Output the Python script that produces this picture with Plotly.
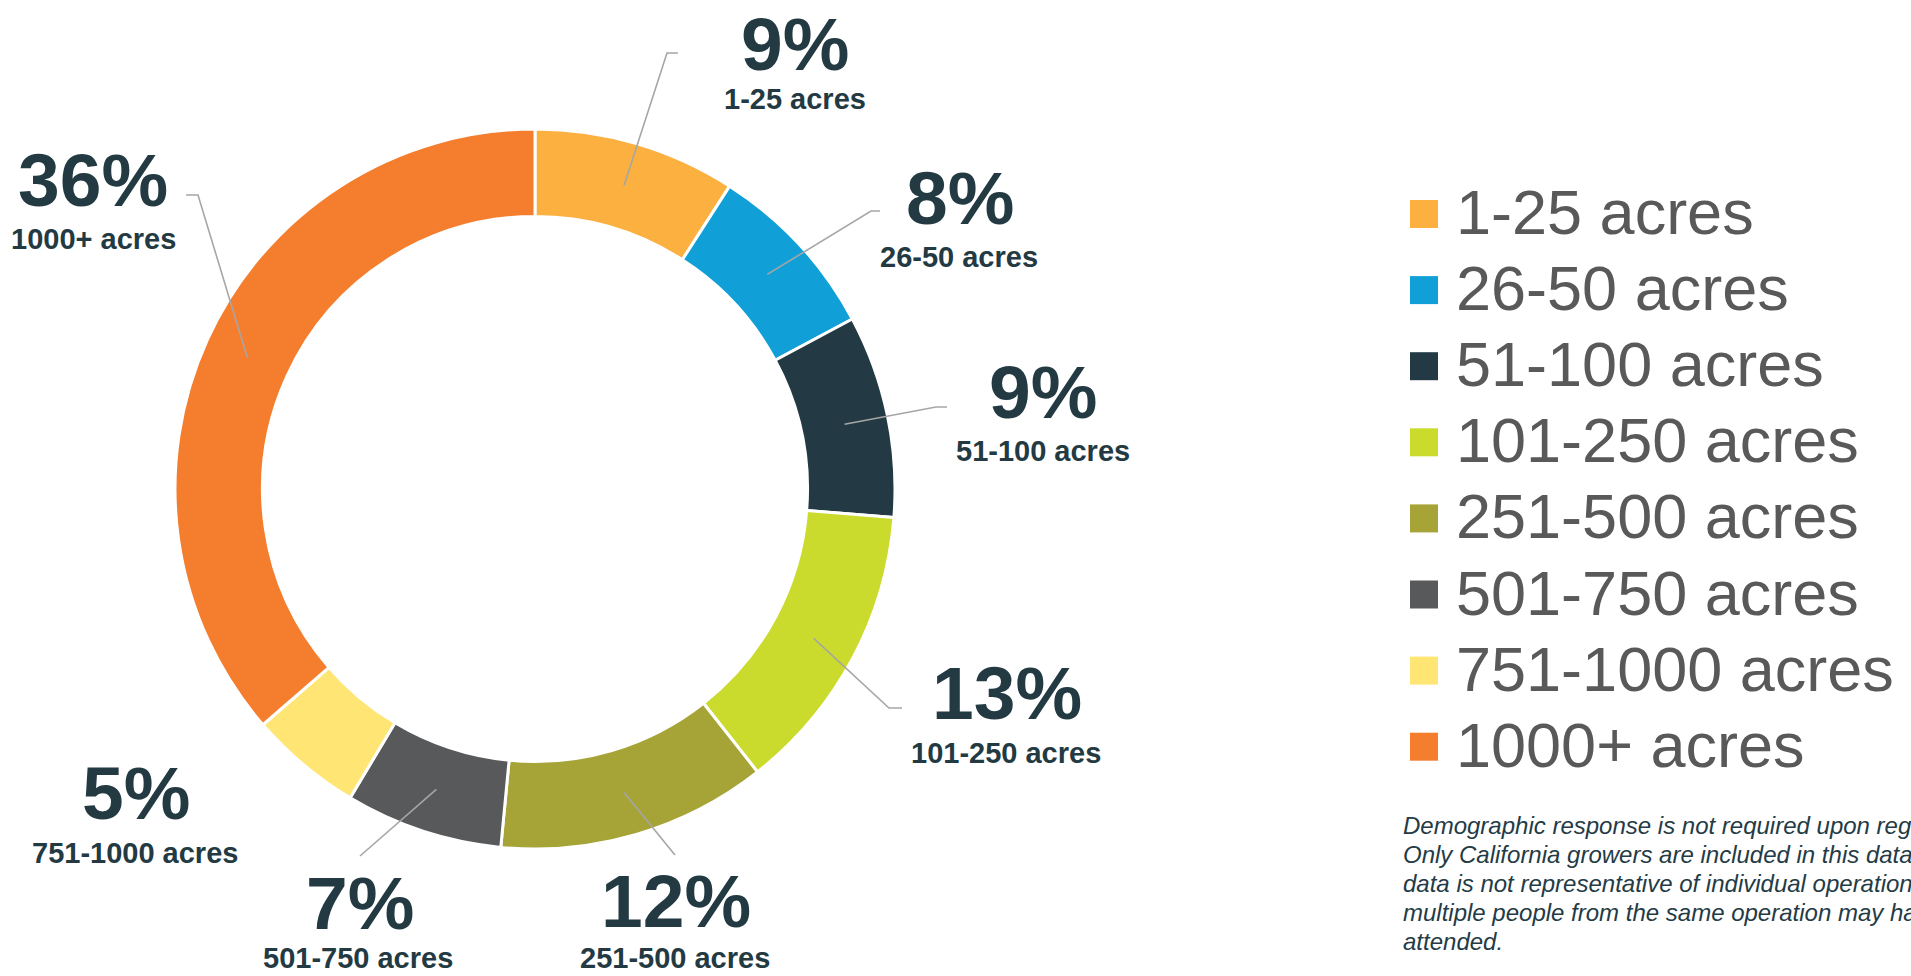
import math
import plotly.graph_objects as go

# ---------------- data ----------------
categories = ["1-25 acres", "26-50 acres", "51-100 acres", "101-250 acres",
              "251-500 acres", "501-750 acres", "751-1000 acres", "1000+ acres"]
values = [9, 8, 9, 13, 12, 7, 5, 36]
pct_labels = ["9%", "8%", "9%", "13%", "12%", "7%", "5%", "36%"]
colors = ["#FBB040", "#109FD7", "#233A44", "#CBDB2E",
          "#A6A337", "#58595B", "#FFE574", "#F47E2E"]
footnote_lines = [
    "Demographic response is not required upon registration.",
    "Only California growers are included in this data set. This",
    "data is not representative of individual operations, as",
    "multiple people from the same operation may have",
    "attended.",
]

# ---------------- layout geometry (pixels) ----------------
W, H = 1911, 976
CX, CY, R = 535, 489, 360
HOLE = 0.757
FONT = "Liberation Sans, Arial, sans-serif"
DARK = "#233A43"

# label anchor positions: (pct_x, pct_y, sub_x, sub_y)
label_pos = [
    (795, 44, 795, 99),
    (960, 198, 959, 257),
    (1043, 392, 1043, 451),
    (1007, 693, 1006, 753),
    (676, 901, 675, 958),
    (360, 903, 358, 958),
    (136, 793, 135, 853),
    (93, 180, 93, 239),
]
# leader line elbow/end points (None = no leader)
leader_pts = [
    [(667, 53), (678, 53)],
    [(871, 211), (880, 211)],
    [(936, 407), (947, 407)],
    [(889, 708), (902, 708)],
    [(675, 855)],
    [(360, 856)],
    None,
    [(198, 195), (186, 195)],
]

LEG_X, LEG_Y0, LEG_DY, LEG_SQ = 1410, 214, 76.1, 28
FOOT_X, FOOT_Y0, FOOT_DY = 1401, 825, 29.2


def px(x):
    return x / W


def py(y):
    return 1 - y / H


fig = go.Figure()
fig.add_trace(go.Pie(
    labels=categories,
    values=values,
    hole=HOLE,
    sort=False,
    direction="clockwise",
    rotation=0,
    marker=dict(colors=colors, line=dict(color="white", width=3)),
    textinfo="none",
    hoverinfo="label+value",
    showlegend=False,
    domain=dict(x=[px(CX - R), px(CX + R)], y=[py(CY + R), py(CY - R)]),
))

annotations = []
shapes = []

total = sum(values)
cum = 0.0
r_mid = R * (1 + HOLE) / 2
for i, cat in enumerate(categories):
    a0 = cum / total * 2 * math.pi
    cum += values[i]
    a1 = cum / total * 2 * math.pi
    am = (a0 + a1) / 2
    sx = CX + r_mid * math.sin(am)
    sy = CY - r_mid * math.cos(am)
    pxx, pyy, sxx, syy = label_pos[i]
    annotations.append(dict(
        x=px(pxx), y=py(pyy), xref="paper", yref="paper",
        text=pct_labels[i], showarrow=False, xanchor="center", yanchor="middle",
        font=dict(family=FONT, size=75, color=DARK, weight="bold"),
    ))
    annotations.append(dict(
        x=px(sxx), y=py(syy), xref="paper", yref="paper",
        text=cat, showarrow=False, xanchor="center", yanchor="middle",
        font=dict(family=FONT, size=29, color=DARK, weight="bold"),
    ))
    if leader_pts[i]:
        pts = [(sx, sy)] + leader_pts[i]
        path = "M " + " L ".join(f"{px(x):.5f},{py(y):.5f}" for x, y in pts)
        shapes.append(dict(type="path", xref="paper", yref="paper", path=path,
                           line=dict(color="#A6A6A6", width=1.6)))

# manual legend
for i, cat in enumerate(categories):
    yc = LEG_Y0 + i * LEG_DY
    shapes.append(dict(type="rect", xref="paper", yref="paper",
                       x0=px(LEG_X), x1=px(LEG_X + LEG_SQ),
                       y0=py(yc + LEG_SQ / 2), y1=py(yc - LEG_SQ / 2),
                       fillcolor=colors[i], line=dict(width=0)))
    annotations.append(dict(
        x=px(LEG_X + LEG_SQ + 16), y=py(yc - 2), xref="paper", yref="paper",
        text=cat, showarrow=False, xanchor="left", yanchor="middle",
        font=dict(family=FONT, size=63, color="#595959"),
    ))

# footnote
for j, line in enumerate(footnote_lines):
    annotations.append(dict(
        x=px(FOOT_X), y=py(FOOT_Y0 + j * FOOT_DY), xref="paper", yref="paper",
        text=f"<i>{line}</i>", showarrow=False, xanchor="left", yanchor="middle",
        font=dict(family=FONT, size=24, color="#243B45"),
    ))

fig.update_layout(
    width=W, height=H,
    margin=dict(l=0, r=0, t=0, b=0),
    paper_bgcolor="white", plot_bgcolor="white",
    annotations=annotations, shapes=shapes,
    showlegend=False,
)

fig.write_html(
    "out.html",
    config={"displayModeBar": False},
    post_script="document.body.style.margin='0';document.body.style.overflow='hidden';",
)
